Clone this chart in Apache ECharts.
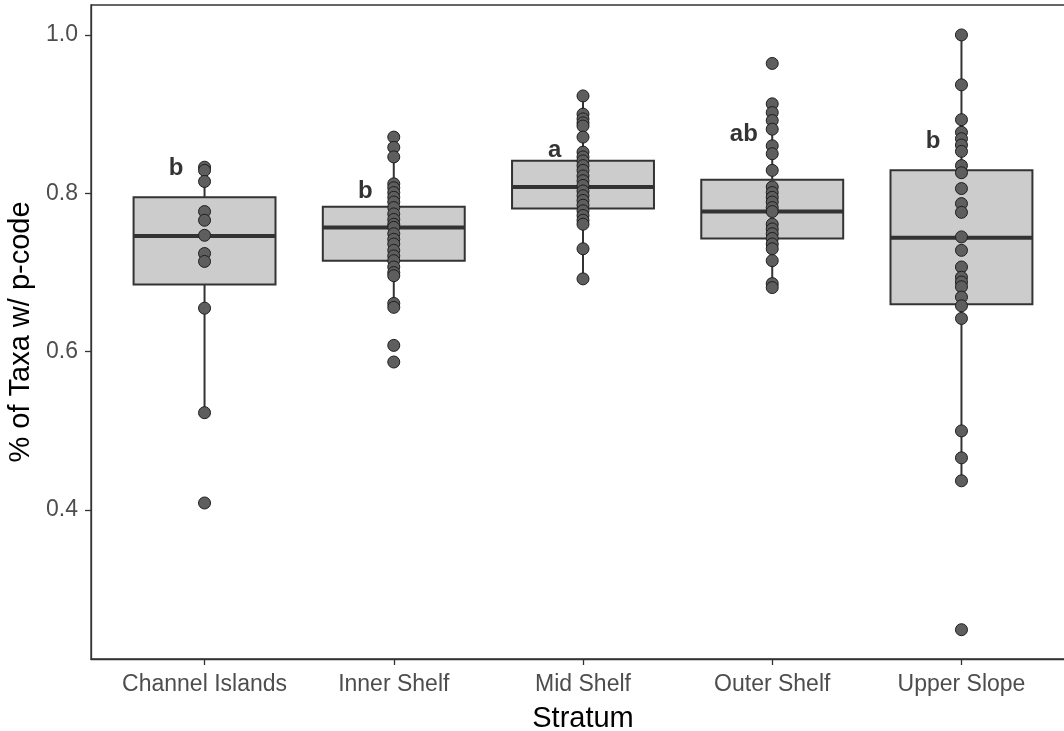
<!DOCTYPE html>
<html>
<head>
<meta charset="utf-8">
<script src="https://cdn.jsdelivr.net/npm/echarts@6/dist/echarts.min.js"></script>
<style>
html,body{margin:0;padding:0;background:#fff;}
#chart{width:1064px;height:731px;}
</style>
</head>
<body>
<div id="chart"></div>
<script>
const categories = ['Channel Islands', 'Inner Shelf', 'Mid Shelf', 'Outer Shelf', 'Upper Slope'];
const yTicks = [0.4, 0.6, 0.8, 1.0];

// box statistics
const boxMin    = [0.523, 0.656, 0.692, 0.681, 0.437];
const boxQ1     = [0.685, 0.715, 0.781, 0.743, 0.660];
const boxMedian = [0.746, 0.757, 0.808, 0.777, 0.744];
const boxQ3     = [0.795, 0.783, 0.841, 0.817, 0.829];
const boxMax    = [0.833, 0.871, 0.923, 0.913, 1.000];

// individual observations
const channelIslands = [0.833, 0.829, 0.815, 0.777, 0.766, 0.747, 0.724, 0.714, 0.655, 0.523, 0.409];
const innerShelf = [0.871, 0.858, 0.846, 0.812, 0.807, 0.801, 0.795, 0.789, 0.782, 0.774, 0.767, 0.761, 0.757,
  0.749, 0.742, 0.736, 0.728, 0.721, 0.715, 0.707, 0.700, 0.696, 0.661, 0.656, 0.608, 0.587];
const midShelf = [0.923, 0.900, 0.894, 0.889, 0.885, 0.871, 0.852, 0.846, 0.841, 0.835, 0.829, 0.822, 0.816,
  0.810, 0.803, 0.797, 0.791, 0.785, 0.778, 0.772, 0.766, 0.761, 0.730, 0.692];
const outerShelf = [0.964, 0.913, 0.902, 0.892, 0.881, 0.860, 0.850, 0.829, 0.808, 0.801, 0.795, 0.789, 0.782,
  0.777, 0.761, 0.755, 0.749, 0.743, 0.736, 0.730, 0.715, 0.686, 0.681];
const upperSlope = [1.000, 0.937, 0.893, 0.877, 0.869, 0.861, 0.853, 0.835, 0.826, 0.806, 0.787, 0.776, 0.745,
  0.728, 0.707, 0.694, 0.688, 0.682, 0.669, 0.658, 0.642, 0.500, 0.466, 0.437, 0.249];
const pointsByCategory = [channelIslands, innerShelf, midShelf, outerShelf, upperSlope];

// significance letters and the height they sit at
const letters = ['b', 'b', 'a', 'ab', 'b'];
const letterY = [0.831, 0.803, 0.854, 0.875, 0.866];

const boxData = categories.map((c, i) => [i + 1, boxMin[i], boxQ1[i], boxMedian[i], boxQ3[i], boxMax[i]]);
const pointData = [];
pointsByCategory.forEach((arr, i) => arr.forEach(v => pointData.push([i + 1, v])));
const letterData = letters.map((l, i) => ({ value: [i + 1 - 0.15, letterY[i]], name: l }));

const FONT = "'Liberation Sans', Arial, sans-serif";
const AX = '#333333';

const chart = echarts.init(document.getElementById('chart'), null, { renderer: 'canvas' });
chart.setOption({
  animation: false,
  backgroundColor: '#ffffff',
  grid: { left: 91, right: -11, top: 5, bottom: 72, show: true, borderColor: AX, borderWidth: 1.3,
    containLabel: false, outerBoundsMode: 'none' },
  xAxis: {
    type: 'value', min: 0.4, max: 5.6,
    name: 'Stratum', nameLocation: 'middle', nameGap: 45,
    nameTextStyle: { fontFamily: FONT, fontSize: 29, color: '#000' },
    axisLine: { show: true, lineStyle: { color: AX, width: 1.3 } },
    axisTick: { show: true, length: 6, lineStyle: { color: AX, width: 1.3 }, customValues: [1, 2, 3, 4, 5] },
    axisLabel: { customValues: [1, 2, 3, 4, 5], margin: 14, fontFamily: FONT, fontSize: 23, color: '#4d4d4d',
      formatter: v => categories[Math.round(v) - 1] },
    splitLine: { show: false }
  },
  yAxis: {
    type: 'value', min: 0.212, max: 1.0378,
    name: '% of Taxa w/ p-code', nameLocation: 'middle', nameRotate: 90, nameGap: 41,
    nameTextStyle: { fontFamily: FONT, fontSize: 29, color: '#000' },
    axisLine: { show: true, lineStyle: { color: AX, width: 1.3 } },
    axisTick: { show: true, length: 6, lineStyle: { color: AX, width: 1.3 }, customValues: yTicks },
    axisLabel: { customValues: yTicks, margin: 13, fontFamily: FONT, fontSize: 23, color: '#4d4d4d',
      formatter: v => Number(v).toFixed(1) },
    splitLine: { show: false }
  },
  series: [
    {
      type: 'custom',
      data: boxData,
      encode: { x: 0, y: [1, 2, 3, 4, 5] },
      z: 2,
      renderItem: function (params, api) {
        const x = api.value(0);
        const mn = api.value(1), q1 = api.value(2), md = api.value(3), q3 = api.value(4), mx = api.value(5);
        const hw = 0.375;
        const tl = api.coord([x - hw, q3]);
        const br = api.coord([x + hw, q1]);
        const pMax = api.coord([x, mx]);
        const pMin = api.coord([x, mn]);
        const mL = api.coord([x - hw, md]);
        const mR = api.coord([x + hw, md]);
        const ls = { stroke: AX, lineWidth: 2 };
        return {
          type: 'group',
          children: [
            { type: 'line', shape: { x1: pMax[0], y1: pMax[1], x2: pMax[0], y2: tl[1] }, style: ls },
            { type: 'line', shape: { x1: pMin[0], y1: br[1], x2: pMin[0], y2: pMin[1] }, style: ls },
            { type: 'rect', shape: { x: tl[0], y: tl[1], width: br[0] - tl[0], height: br[1] - tl[1] },
              style: { fill: '#cccccc', stroke: AX, lineWidth: 2 } },
            { type: 'line', shape: { x1: mL[0], y1: mL[1], x2: mR[0], y2: mR[1] }, style: { stroke: AX, lineWidth: 4 } }
          ]
        };
      }
    },
    {
      type: 'scatter',
      data: pointData,
      z: 3,
      symbol: 'circle',
      symbolSize: 12,
      itemStyle: { color: '#5e5e5e', borderColor: '#1e1e1e', borderWidth: 1, opacity: 1 }
    },
    {
      type: 'scatter',
      data: letterData,
      z: 4,
      symbolSize: 1,
      itemStyle: { color: 'rgba(0,0,0,0)' },
      label: {
        show: true, position: 'inside', formatter: p => p.name,
        fontFamily: FONT, fontSize: 24, fontWeight: 'bold', color: '#000'
      }
    }
  ]
});
</script>
</body>
</html>
